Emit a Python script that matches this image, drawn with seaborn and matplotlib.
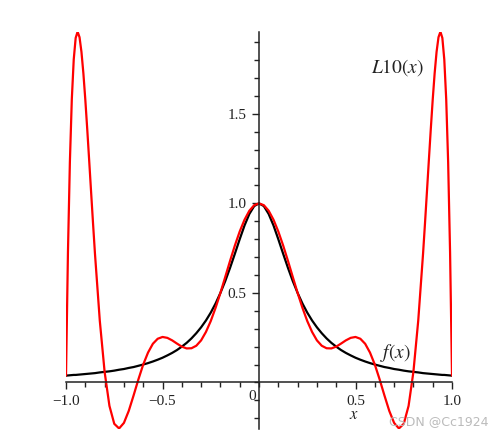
import seaborn as sns
import matplotlib.pyplot as plt
from matplotlib.ticker import MultipleLocator

# sampled x positions (denser near the ends, where L10 swings hard)
x_vals = [-1.0, -0.99, -0.98, -0.97, -0.96, -0.95, -0.94, -0.93, -0.92, -0.91, -0.9, -0.89, -0.88, -0.87, -0.86,
          -0.85, -0.825, -0.8, -0.775, -0.75, -0.725, -0.7, -0.675, -0.65, -0.625, -0.6, -0.575, -0.55, -0.525,
          -0.5, -0.475, -0.45, -0.425, -0.4, -0.375, -0.35, -0.325, -0.3, -0.275, -0.25, -0.225, -0.2, -0.175,
          -0.15, -0.125, -0.1, -0.075, -0.05, -0.025, 0.0, 0.025, 0.05, 0.075, 0.1, 0.125, 0.15, 0.175, 0.2,
          0.225, 0.25, 0.275, 0.3, 0.325, 0.35, 0.375, 0.4, 0.425, 0.45, 0.475, 0.5, 0.525, 0.55, 0.575, 0.6,
          0.625, 0.65, 0.675, 0.7, 0.725, 0.75, 0.775, 0.8, 0.825, 0.85,
          0.86, 0.87, 0.88, 0.89, 0.9, 0.91, 0.92, 0.93, 0.94, 0.95, 0.96, 0.97, 0.98, 0.99, 1.0]

# f(x), black curve
f_vals = [0.038, 0.039, 0.040, 0.041, 0.042, 0.042, 0.043, 0.044, 0.045, 0.046, 0.047, 0.048, 0.049, 0.050, 0.051,
          0.052, 0.056, 0.059, 0.062, 0.066, 0.071, 0.075, 0.081, 0.086, 0.093, 0.100, 0.108, 0.117, 0.127,
          0.138, 0.151, 0.165, 0.181, 0.200, 0.221, 0.246, 0.275, 0.308, 0.346, 0.390, 0.441, 0.500, 0.566,
          0.640, 0.719, 0.800, 0.877, 0.941, 0.985, 1.000, 0.985, 0.941, 0.877, 0.800, 0.719, 0.640, 0.566, 0.500,
          0.441, 0.390, 0.346, 0.308, 0.275, 0.246, 0.221, 0.200, 0.181, 0.165, 0.151, 0.138, 0.127, 0.117, 0.108,
          0.100, 0.093, 0.086, 0.081, 0.075, 0.071, 0.066, 0.062, 0.059, 0.056, 0.052,
          0.051, 0.050, 0.049, 0.048, 0.047, 0.046, 0.045, 0.044, 0.043, 0.042, 0.042, 0.041, 0.040, 0.039, 0.038]

# L10(x), red curve
l10_vals = [0.038, 0.726, 1.230, 1.581, 1.804, 1.924, 1.959, 1.928, 1.846, 1.726, 1.579, 1.414, 1.240, 1.063, 0.888,
            0.719, 0.345, 0.059, -0.131, -0.231, -0.257, -0.226, -0.159, -0.073, 0.017, 0.100, 0.167, 0.216, 0.244,
            0.254, 0.249, 0.235, 0.217, 0.200, 0.190, 0.191, 0.205, 0.235, 0.282, 0.343, 0.417, 0.500, 0.589,
            0.679, 0.765, 0.843, 0.909, 0.959, 0.990, 1.000, 0.990, 0.959, 0.909, 0.843, 0.765, 0.679, 0.589, 0.500,
            0.417, 0.343, 0.282, 0.235, 0.205, 0.191, 0.190, 0.200, 0.217, 0.235, 0.249, 0.254, 0.244, 0.216, 0.167,
            0.100, 0.017, -0.073, -0.159, -0.226, -0.257, -0.231, -0.131, 0.059, 0.345, 0.719,
            0.888, 1.063, 1.240, 1.414, 1.579, 1.726, 1.846, 1.928, 1.959, 1.924, 1.804, 1.581, 1.230, 0.726, 0.038]

x_ticks = [-1.0, -0.5, 0.5, 1.0]
x_ticklabels = ["\u22121.0", "\u22120.5", "0.5", "1.0"]
y_ticks = [0.5, 1.0, 1.5]
y_ticklabels = ["0.5", "1.0", "1.5"]

sns.set_style("white")
plt.rcParams["font.family"] = ["Liberation Serif", "DejaVu Serif"]
plt.rcParams["mathtext.fontset"] = "stix"

fig = plt.figure(figsize=(4.96, 4.44), dpi=100)
ax = fig.add_axes([0.1331, 0.0338, 0.7782, 0.8932])

sns.lineplot(x=x_vals, y=f_vals, color="black", linewidth=1.6, sort=False, ax=ax)
sns.lineplot(x=x_vals, y=l10_vals, color="#ff0000", linewidth=1.6, sort=False, ax=ax)

ax.set_xlim(-1.0, 1.0)
ax.set_ylim(-0.26, 1.955)

# axes crossing at the origin, Maple style
for side in ["top", "right"]:
    ax.spines[side].set_visible(False)
ax.spines["left"].set_position(("data", 0))
ax.spines["bottom"].set_position(("data", 0))
for side in ["left", "bottom"]:
    ax.spines[side].set_color("#222222")
    ax.spines[side].set_linewidth(1.1)

ax.set_xticks(x_ticks)
ax.set_xticklabels(x_ticklabels)
ax.set_yticks(y_ticks)
ax.set_yticklabels(y_ticklabels)
ax.xaxis.set_minor_locator(MultipleLocator(0.1))
ax.yaxis.set_minor_locator(MultipleLocator(0.1))
ax.tick_params(which="both", direction="out", color="#222222", width=1.0, labelsize=11, labelcolor="#222222")
ax.tick_params(which="major", length=5, pad=4)
ax.tick_params(which="minor", length=3.5)
ax.xaxis.set_ticks_position("bottom")
ax.yaxis.set_ticks_position("left")
ax.grid(False)

ax.text(-0.036, -0.078, "0", fontsize=11, color="#222222", ha="center", va="center")
ax.text(0.49, -0.18, "$x$", fontsize=12, color="#222222", ha="center", va="center")
ax.text(0.58, 1.73, r"$L\mathrm{10}(x)$", fontsize=14, color="#222222", ha="left", va="baseline")
ax.text(0.627, 0.134, "$f(x)$", fontsize=14, color="#222222", ha="left", va="baseline")

fig.text(0.985, 0.035, "CSDN @Cc1924", fontsize=9, color="#bbbbbb", ha="right", va="bottom",
         family=["DejaVu Sans"])

fig.savefig("out.png", dpi=100)
